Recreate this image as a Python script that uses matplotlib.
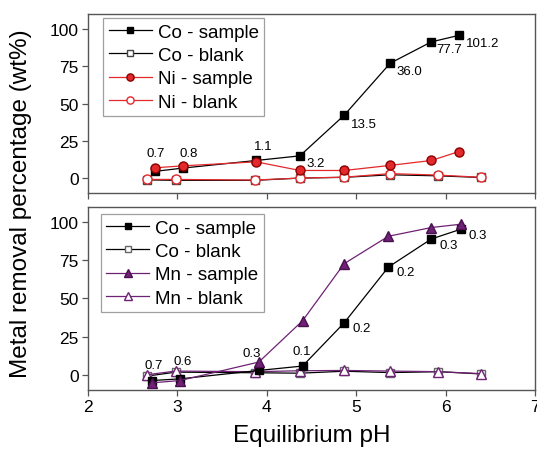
import matplotlib.pyplot as plt
import numpy as np

plt.rcParams['font.family'] = ['Liberation Sans', 'DejaVu Sans']

# pH at each sampling point
ph_sample = [2.75, 3.06, 3.88, 4.37, 4.865, 5.38, 5.84, 6.15]
ph_blank = [2.66, 2.98, 3.87, 4.37, 4.865, 5.38, 5.92, 6.40]

# top panel: Co / Ni
co_sample_a = [4.5, 6.7, 11.8, 14.9, 42.1, 77.0, 91.3, 95.7]
co_blank_a = [-1.2, -1.5, -1.5, 0.0, 0.5, 2.2, 1.5, 0.4]
ni_sample = [6.9, 8.2, 10.9, 5.1, 5.1, 8.5, 11.8, 17.8]
ni_blank = [-0.9, -0.9, -1.3, 0.0, 0.6, 3.0, 2.0, 0.5]
labels_a = ['0.7', '0.8', '1.1', '3.2', '13.5', '36.0', '77.7', '101.2']
offsets_a = [(0.5, 13), (4, 11), (5, 10.5), (11, -5.5), (14, -6), (13.5, -5.3), (13, -5), (17, -5.5)]

# bottom panel: Co / Mn
ph_sample_b = [2.72, 3.03, 3.91, 4.40, 4.865, 5.36, 5.84, 6.17]
co_sample_b = [-3.8, -2.7, 2.8, 5.7, 34.0, 70.6, 89.0, 95.4]
co_blank_b = [-0.9, 1.7, 1.3, 1.0, 2.3, 1.4, 2.0, 0.5]
mn_sample = [-5.3, -3.8, 8.3, 35.4, 72.8, 90.8, 96.5, 98.7]
mn_blank = [0.0, 2.4, 2.0, 2.6, 2.8, 2.4, 2.0, 0.7]
labels_b = ['0.7', '0.6', '0.3', '0.1', '0.2', '0.2', '0.3', '0.3']
offsets_b = [(1, 11.5), (2, 12.5), (-5, 12.5), (-0.7, 11), (12.5, -4), (12.7, -3.6), (12.2, -4), (12.2, -3.8)]

red = '#e3292b'
purple = '#6f2275'
spine_col = '#555555'

fig = plt.figure(figsize=(5.37, 4.52), dpi=100)
ax1 = fig.add_axes([0.1639, 0.5708, 0.8324, 0.396])
ax2 = fig.add_axes([0.1639, 0.1350, 0.8324, 0.4049])

ms = 5.5
ax1.plot(ph_sample, co_sample_a, '-s', color='black', lw=0.9, ms=ms, label='Co - sample', zorder=4)
ax1.plot(ph_blank, co_blank_a, '-s', color='black', mfc='white', mec='#444444', lw=0.9, ms=ms, label='Co - blank', zorder=2)
ax1.plot(ph_sample, ni_sample, '-o', color=red, mfc=red, mec='#8a0000', lw=0.9, ms=ms + 1, label='Ni - sample', zorder=5)
ax1.plot(ph_blank, ni_blank, '-o', color=red, mfc='white', mec=red, lw=0.9, ms=ms + 1, label='Ni - blank', zorder=3)

ax2.plot(ph_sample_b, co_sample_b, '-s', color='black', lw=0.9, ms=ms, label='Co - sample', zorder=4)
ax2.plot(ph_blank, co_blank_b, '-s', color='black', mfc='white', mec='#666666', lw=0.9, ms=ms, label='Co - blank', zorder=2)
ax2.plot(ph_sample_b, mn_sample, '-^', color=purple, mfc=purple, mec='#4a0f50', lw=0.9, ms=ms + 1, label='Mn - sample', zorder=5)
ax2.plot(ph_blank, mn_blank, '-^', color=purple, mfc='white', mec=purple, lw=0.9, ms=ms + 1, label='Mn - blank', zorder=3)

for x, y, t, off in zip(ph_sample, co_sample_a, labels_a, offsets_a):
    ax1.annotate(t, (x, y), xytext=off, textcoords='offset points',
                 ha='center', va='center', fontsize=9.5, zorder=6)
for x, y, t, off in zip(ph_sample_b, co_sample_b, labels_b, offsets_b):
    ax2.annotate(t, (x, y), xytext=off, textcoords='offset points',
                 ha='center', va='center', fontsize=9.5, zorder=6)

for ax in (ax1, ax2):
    ax.set_xlim(2, 7)
    ax.set_ylim(-10, 110)
    ax.set_xticks([2, 3, 4, 5, 6, 7])
    ax.set_yticks([0, 25, 50, 75, 100])
    ax.tick_params(direction='out', length=4.5, width=0.9, color=spine_col, labelsize=12.5, pad=2)
    for s in ax.spines.values():
        s.set_color(spine_col)
        s.set_linewidth(1.0)

ax1.tick_params(axis='x', labelbottom=False)

leg_kw = dict(loc='upper left', borderaxespad=0, fontsize=13.5, frameon=True,
              fancybox=False, edgecolor='#888888', handlelength=2.3,
              handletextpad=0.3, labelspacing=0.33, borderpad=0.3, markerscale=0.8)
leg1 = ax1.legend(bbox_to_anchor=(0.034, 0.978), **leg_kw)
leg1.get_frame().set_linewidth(0.9)
leg2 = ax2.legend(bbox_to_anchor=(0.028, 0.962), **leg_kw)
leg2.get_frame().set_linewidth(0.9)

ax2.set_xlabel('Equilibrium pH', fontsize=17.5, labelpad=7)
fig.text(0.04, 0.55, 'Metal removal percentage (wt%)', rotation=90,
         ha='center', va='center', fontsize=17.5)

fig.savefig('out.png', dpi=100)
